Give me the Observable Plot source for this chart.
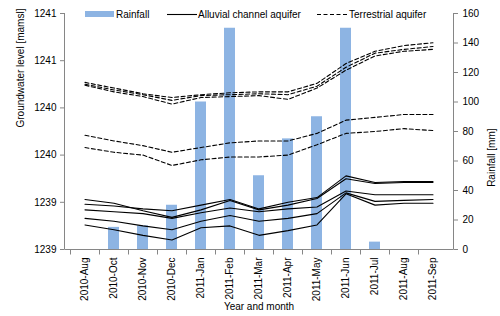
<!DOCTYPE html>
<html><head><meta charset="utf-8">
<script src="https://cdn.jsdelivr.net/npm/d3@7"></script>
<script src="https://cdn.jsdelivr.net/npm/@observablehq/plot@0.6"></script>
<style>
body{margin:0;background:#fff;}
#wrap{position:relative;width:500px;height:316px;font-family:"Liberation Sans",Arial,sans-serif;}
#wrap svg{display:block;}
#legend{position:absolute;left:0;top:0;}
</style></head><body><div id="wrap"></div>
<script>
// ---- data ----
const months = ["2010-Aug","2010-Oct","2010-Nov","2010-Dec","2011-Jan","2011-Feb","2011-Mar","2011-Apr","2011-May","2011-Jun","2011-Jul","2011-Aug","2011-Sep"];
const rainfall = [0, 15, 16, 30, 100, 150, 50, 75, 90, 150, 5, 0, 0];

// Alluvial channel aquifer (solid lines), groundwater level [mamsl]
const alluvial1 = [1238.98,1238.96,1238.93,1238.91,1238.97,1239.03,1238.93,1239.00,1239.05,1239.28,1239.21,1239.22,1239.22];
const alluvial2 = [1239.03,1238.99,1238.91,1238.84,1238.92,1239.02,1238.92,1238.97,1239.04,1239.25,1239.20,1239.21,1239.21];
const alluvial3 = [1238.92,1238.90,1238.88,1238.83,1238.89,1238.94,1238.90,1238.93,1238.95,1239.12,1239.08,1239.08,1239.08];
const alluvial4 = [1238.83,1238.80,1238.75,1238.71,1238.80,1238.86,1238.80,1238.83,1238.88,1239.10,1239.01,1239.02,1239.03];
const alluvial5 = [1238.76,1238.71,1238.65,1238.60,1238.73,1238.75,1238.65,1238.70,1238.76,1239.09,1238.97,1238.99,1238.99];

// Terrestrial aquifer (dashed lines)
const terrestrial1 = [1240.27,1240.21,1240.15,1240.11,1240.14,1240.16,1240.17,1240.17,1240.26,1240.47,1240.60,1240.66,1240.69];
const terrestrial2 = [1240.25,1240.19,1240.14,1240.08,1240.13,1240.14,1240.15,1240.14,1240.23,1240.43,1240.58,1240.62,1240.65];
const terrestrial3 = [1240.24,1240.17,1240.12,1240.04,1240.11,1240.12,1240.13,1240.09,1240.21,1240.40,1240.55,1240.60,1240.62];
const terrestrial4 = [1239.71,1239.65,1239.60,1239.53,1239.58,1239.63,1239.65,1239.65,1239.73,1239.87,1239.90,1239.93,1239.93];
const terrestrial5 = [1239.58,1239.53,1239.50,1239.39,1239.45,1239.48,1239.48,1239.50,1239.61,1239.73,1239.75,1239.78,1239.76];

const gwTicks = [1238.5, 1239, 1239.5, 1240, 1240.5, 1241];
const gwTickLabels = ["1239","1239","1240","1240","1241","1241"];
const rainTicks = [0, 20, 40, 60, 80, 100, 120, 140, 160];
const rainTickLabels = ["0","20","40","60","80","100","120","140","160"];

const leftLabel = "Groundwater level [mamsl]";
const rightLabel = "Rainfall [mm]";
const xLabel = "Year and month";
const legendNames = ["Rainfall", "Alluvial channel aquifer", "Terrestrial aquifer"];

// ---- scales mapping ----
const gwMin = gwTicks[0], gwMax = gwTicks[gwTicks.length - 1], rainMax = rainTicks[rainTicks.length - 1];
const toGw = r => gwMin + r * (gwMax - gwMin) / rainMax;

const barRows = months.map((m, i) => ({month: m, rain: rainfall[i]}));
const lineRows = [];
[alluvial1, alluvial2, alluvial3, alluvial4, alluvial5].forEach((vals, s) =>
  vals.forEach((v, i) => lineRows.push({month: months[i], value: v, series: "A" + s, type: "alluvial"})));
[terrestrial1, terrestrial2, terrestrial3, terrestrial4, terrestrial5].forEach((vals, s) =>
  vals.forEach((v, i) => lineRows.push({month: months[i], value: v, series: "T" + s, type: "terrestrial"})));

const gwLabelMap = new Map(gwTicks.map((t, i) => [t, gwTickLabels[i]]));
const rainGwTicks = rainTicks.map(toGw);
const rainLabelMap = new Map(rainGwTicks.map((t, i) => [t, rainTickLabels[i]]));

const gray = "#868686";
const barColor = "#8db4e3";

function frameAxes(index, scales, values, dims) {
  const {width, height, marginLeft, marginRight, marginTop, marginBottom} = dims;
  const x0 = marginLeft + 0.5, x1 = width - marginRight + 0.5, y0 = marginTop, y1 = height - marginBottom + 0.5;
  const g = d3.create("svg:g").attr("stroke", gray).attr("fill", "none").attr("stroke-width", 1);
  g.append("path").attr("d", `M${x0},${y0}V${y1}H${x1}V${y0}`);
  months.forEach(m => {
    const x = Math.round(scales.x(m)) + 0.5;
    if (x > x0 + 1) g.append("line").attr("x1", x).attr("x2", x).attr("y1", y1).attr("y2", y1 + 5);
  });
  return g.node();
}

const chart = Plot.plot({
  width: 500, height: 316,
  marginLeft: 64, marginRight: 47, marginTop: 13, marginBottom: 67,
  x: {type: "band", domain: months, padding: 0, axis: null},
  y: {domain: [gwMin, gwMax], axis: null},
  style: {fontFamily: '"Liberation Sans", Arial, sans-serif', fontSize: "10px", color: "#000", background: "transparent"},
  marks: [
    Plot.barY(barRows, {x: "month", y1: gwMin, y2: d => toGw(d.rain), fill: barColor, insetLeft: 9, insetRight: 9}),
    Plot.line(lineRows.filter(d => d.type === "terrestrial"), {x: "month", y: "value", z: "series", stroke: "#000", strokeWidth: 1.1, strokeDasharray: "4,2.5"}),
    Plot.line(lineRows.filter(d => d.type === "alluvial"), {x: "month", y: "value", z: "series", stroke: "#000", strokeWidth: 1.1}),
    frameAxes,
    Plot.axisY({anchor: "left", ticks: gwTicks, tickFormat: d => gwLabelMap.get(d), tickSize: 4, tickPadding: 4, label: null, stroke: gray}),
    Plot.axisY({anchor: "right", ticks: rainGwTicks, tickFormat: d => rainLabelMap.get(d), tickSize: 4, tickPadding: 5, label: null, stroke: gray}),
    Plot.axisX({anchor: "bottom", tickSize: 0, tickPadding: 8, tickRotate: -90, label: null}),
    Plot.text([leftLabel], {frameAnchor: "left", dx: -44, dy: -4, rotate: -90, text: d => d, fontSize: 10}),
    Plot.text([rightLabel], {frameAnchor: "right", dx: 38, dy: -3, rotate: -90, text: d => d, fontSize: 10}),
    Plot.text([xLabel], {frameAnchor: "bottom", dy: 60, text: d => d, fontSize: 10})
  ]
});
const wrap = document.getElementById("wrap");
wrap.appendChild(chart);

// legend overlay
const leg = d3.select(wrap).append("svg").attr("id", "legend").attr("width", 500).attr("height", 26)
  .style("font-family", '"Liberation Sans", Arial, sans-serif').style("font-size", "10px");
const ly = 14;
leg.append("rect").attr("x", 85).attr("y", ly - 3).attr("width", 29).attr("height", 6).attr("fill", barColor);
leg.append("text").attr("x", 116).attr("y", ly).attr("dy", "0.35em").text(legendNames[0]);
leg.append("line").attr("x1", 167).attr("x2", 197).attr("y1", ly + 0.5).attr("y2", ly + 0.5).attr("stroke", "#000").attr("stroke-width", 1.1);
leg.append("text").attr("x", 198).attr("y", ly).attr("dy", "0.35em").text(legendNames[1]);
leg.append("line").attr("x1", 317).attr("x2", 348).attr("y1", ly + 0.5).attr("y2", ly + 0.5).attr("stroke", "#000").attr("stroke-width", 1.1).attr("stroke-dasharray", "4,2.5");
leg.append("text").attr("x", 349).attr("y", ly).attr("dy", "0.35em").text(legendNames[2]);
</script></body></html>
